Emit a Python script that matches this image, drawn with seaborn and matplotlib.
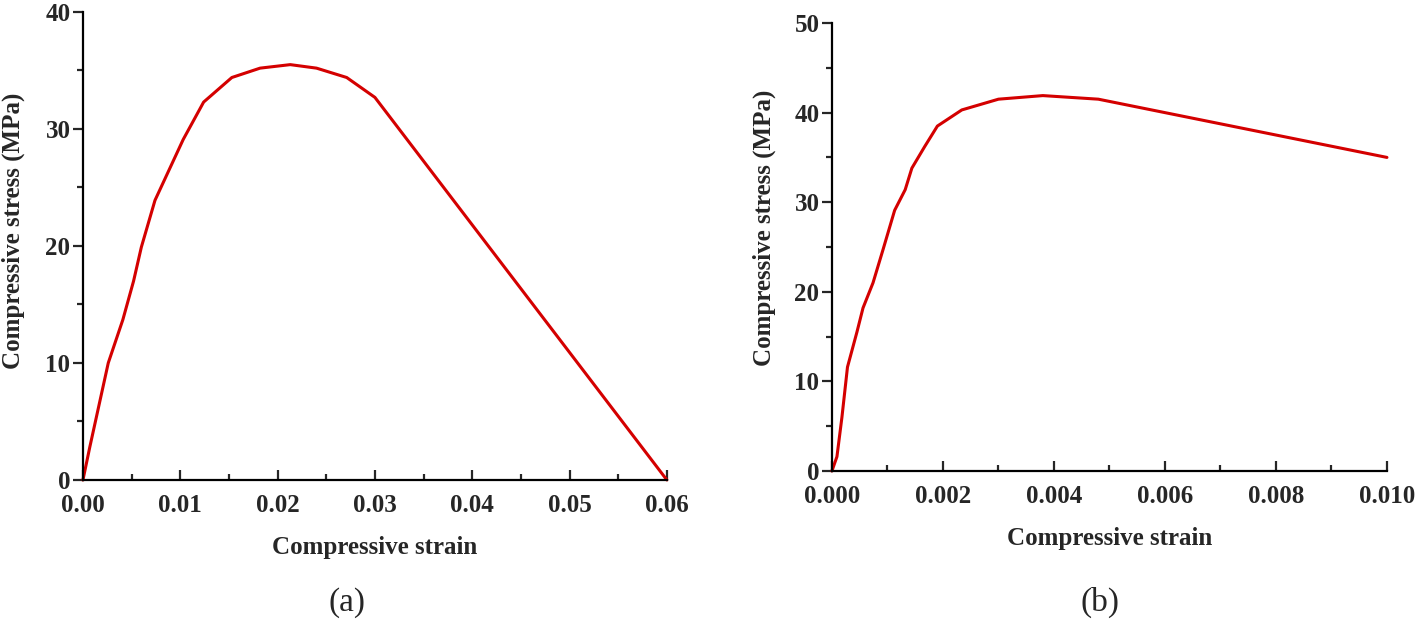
import matplotlib
matplotlib.use("Agg")
from matplotlib import pyplot as plt
from matplotlib.ticker import AutoMinorLocator
import seaborn as sns
import pandas as pd

# (a) stress-strain curve
strain_a = [0.0, 0.0007, 0.0026, 0.0041, 0.0052, 0.0060, 0.0074, 0.0103, 0.0124,
            0.0153, 0.0182, 0.0213, 0.0240, 0.0271, 0.0300, 0.0600]
stress_a = [0.0, 2.8, 10.0, 13.7, 17.0, 19.9, 23.9, 29.1, 32.3,
            34.4, 35.2, 35.5, 35.2, 34.4, 32.7, 0.0]

# (b) stress-strain curve
strain_b = [0.0, 0.00009, 0.00018, 0.00028, 0.00045, 0.00056, 0.00074, 0.00092,
            0.00113, 0.00132, 0.00144, 0.00167, 0.0019, 0.00234, 0.0030, 0.0038,
            0.0048, 0.0100]
stress_b = [0.0, 1.6, 6.0, 11.6, 15.5, 18.2, 21.0, 24.7,
            29.1, 31.4, 33.8, 36.2, 38.5, 40.3, 41.5, 41.9,
            41.5, 35.0]

xticks_a = [0.00, 0.01, 0.02, 0.03, 0.04, 0.05, 0.06]
yticks_a = [0, 10, 20, 30, 40]
xticks_b = [0.000, 0.002, 0.004, 0.006, 0.008, 0.010]
yticks_b = [0, 10, 20, 30, 40, 50]

sns.set_style("ticks")
plt.rcParams['font.family'] = ['Liberation Serif', 'DejaVu Serif']

red = '#d40000'
fig = plt.figure(figsize=(14.18, 6.24), dpi=100)
ax1 = fig.add_axes([0.0585, 0.2308, 0.4118, 0.75])
ax2 = fig.add_axes([0.5867, 0.2452, 0.3914, 0.7179])


def style_axis(ax, xticks, yticks, xfmt, ylab_y):
    ax.set_xlim(xticks[0], xticks[-1])
    ax.set_ylim(yticks[0], yticks[-1])
    ax.set_xticks(xticks)
    ax.set_xticklabels([xfmt.format(v) for v in xticks])
    ax.set_yticks(yticks)
    ax.set_yticklabels([str(v) for v in yticks])
    ax.xaxis.set_minor_locator(AutoMinorLocator(2))
    ax.yaxis.set_minor_locator(AutoMinorLocator(2))
    for s in ['top', 'right']:
        ax.spines[s].set_visible(False)
    for s in ['left', 'bottom']:
        ax.spines[s].set_linewidth(1.6)
        ax.spines[s].set_color('black')
    ax.tick_params(axis='x', which='major', direction='in', length=7, width=1.6, pad=10)
    ax.tick_params(axis='x', which='minor', direction='in', length=4, width=1.6)
    ax.tick_params(axis='y', which='major', direction='out', length=7, width=1.6, pad=2)
    ax.tick_params(axis='y', which='minor', direction='out', length=4, width=1.6)
    for lab in ax.get_xticklabels() + ax.get_yticklabels():
        lab.set_fontsize(18)
        lab.set_fontweight('bold')
    ax.set_xlabel('Compressive strain', fontsize=18, fontweight='bold', labelpad=14)
    ax.set_ylabel('Compressive stress (MPa)', fontsize=18, fontweight='bold')
    ax.yaxis.set_label_coords(-0.10, ylab_y)


df_a = pd.DataFrame({'strain': strain_a, 'stress': stress_a})
df_b = pd.DataFrame({'strain': strain_b, 'stress': stress_b})

sns.lineplot(data=df_a, x='strain', y='stress', ax=ax1, color=red, linewidth=2.2,
             sort=False, clip_on=False)
sns.lineplot(data=df_b, x='strain', y='stress', ax=ax2, color=red, linewidth=2.2,
             sort=False, clip_on=False)

style_axis(ax1, xticks_a, yticks_a, '{:.2f}', 0.532)
style_axis(ax2, xticks_b, yticks_b, '{:.3f}', 0.542)

fig.text(0.245, 0.035, '(a)', ha='center', va='center', fontsize=24)
fig.text(0.776, 0.035, '(b)', ha='center', va='center', fontsize=24)

fig.savefig('out.png', dpi=100, facecolor='white')
